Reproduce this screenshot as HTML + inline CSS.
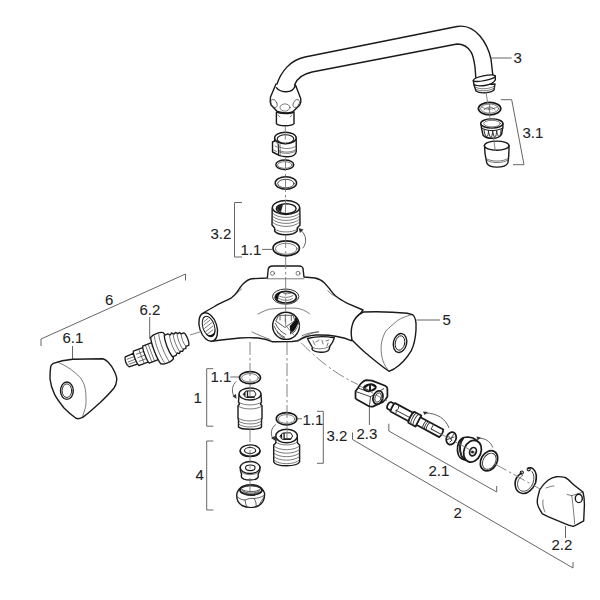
<!DOCTYPE html>
<html><head><meta charset="utf-8">
<style>
html,body{margin:0;padding:0;background:#fff;}
svg{display:block;}
.p{fill:#fff;stroke:#1a1a1a;stroke-width:1.4;stroke-linejoin:round;stroke-linecap:round;}
.n{fill:none;stroke:#1a1a1a;stroke-width:1.4;stroke-linejoin:round;stroke-linecap:round;}
.t{fill:none;stroke:#444;stroke-width:0.7;stroke-linecap:round;}
.g{fill:none;stroke:#666;stroke-width:1;}
.d{fill:none;stroke:#777;stroke-width:0.9;stroke-dasharray:13 3 2.5 2.5;}
.bold .p,.bold .n{stroke-width:1.75;}
.bold .t{stroke-width:0.9;stroke:#333;}
text{font-family:"Liberation Sans",sans-serif;font-size:15px;fill:#222;stroke:#222;stroke-width:0.08;}
</style></head>
<body>
<svg width="600" height="600" viewBox="0 0 600 600">
<!-- SPOUT 3 -->
<path fill="#fff" d="M277 84 C281 72 290 60 305 57 L457 26.5 C466 25 474 29 480 36 C485 42 489 50 491 59 L493 76 L476 79 L475 67 C474 60 473 55 471 52 C468 47 463 44 457 44 L312 72 C303 74 297 78 294.5 85 Z"/>
<path class="n" d="M277 84 C281 72 290 60 305 57 L457 26.5 C466 25 474 29 480 36 C485 42 489 50 491 59 L493 77"/>
<path class="n" d="M476 80 L475 67 C474 60 473 55 471 52 C468 47 463 44 457 44 L312 72 C303 74 297 78 294.5 85"/>
<!-- nozzle ring -->
<path class="p" d="M474 85 L476 91 C480 94 491 93 494 90 L495 84 Z"/>
<path class="t" d="M475 87 C480 90 490 89 494.5 86 M475.5 89 C480 92 490 91 494.5 88"/>
<path class="p" d="M473.3 80.7 L474 84.5 C478 87 492 86 495.3 80 L495.3 76 C491 79 478 81 473.3 80.7 Z"/>
<path class="p" d="M473.3 80.7 C473 77 493 73 495.3 76 C496 79 476 83 473.3 80.7 Z"/>

<!-- swivel nut -->
<path class="p" d="M276 84 L270.5 97 C270 100 270 103 271 105 L277.3 111.5 C282 113 289 113 292.6 112 L299.8 105 C301 103 301 100 300.7 98.5 L295.5 85 C294 90 290 92 285.4 91.8 C281 91.5 278 90 276.4 87.7"/>
<ellipse class="t" cx="274" cy="103.5" rx="2.8" ry="4.3" transform="rotate(-25 274 103.5)"/>
<ellipse class="t" cx="285" cy="107.5" rx="5" ry="3.6"/>
<ellipse class="t" cx="296.3" cy="103.5" rx="2.8" ry="4.3" transform="rotate(25 296.3 103.5)"/>
<path class="p" d="M276.4 112 L276.4 123.7 C278 126.5 292 126.5 294 123.7 L294 112 C290 114 280 114 276.4 112 Z"/>
<path class="t" d="M278 115 l2 2 M292 115 l-2 2"/>

<!-- clip ring -->
<path class="p" d="M274.7 138 L274.7 141 L272.5 142 L272.5 152 L277.5 154.5 C281 157 291 157.5 293.5 155.5 C295.5 154 296.3 153 296.3 151.5 L296.2 138 Z"/>
<ellipse class="p" cx="285.4" cy="138" rx="10.8" ry="5.8"/>
<ellipse class="n" cx="285.5" cy="139" rx="8.3" ry="4.2" style="stroke-width:1.1"/>
<path class="t" d="M279 146.8 C284 149.5 292 149 296.2 146 M279 150.5 C284 153 292 152.5 296.2 149.5 M279 151.8 C284 154.3 292 153.8 296.2 150.8"/>
<path class="n" d="M278.2 144 L278.6 155" style="stroke-width:1.1"/>
<path class="t" d="M280 144.5 L280.3 155.5 M274.7 141 C275.5 142 277 143.5 278.2 144 M275 146 l2 1 M273.5 150 l3 1.5"/>
<!-- o-rings -->
<ellipse class="n" cx="284.8" cy="164.8" rx="9" ry="4.8"/>
<ellipse class="t" cx="284.8" cy="165" rx="7.3" ry="3.3"/>
<ellipse class="n" cx="285.9" cy="183" rx="10.7" ry="6.2" style="stroke-width:1.5"/>
<ellipse class="t" cx="285.9" cy="183.6" rx="8.2" ry="4.3" style="stroke-width:0.9;stroke:#333"/>

<!-- insert 3.2 upper -->
<path class="p" d="M272.2 208 L272 225 L274.6 228 L274.6 231 C278 236 293 236 297.2 231 L297.2 228 L300 225 L299.8 208 Z"/>
<ellipse class="p" cx="286" cy="207.5" rx="13.6" ry="7"/>
<ellipse class="n" cx="286.2" cy="208.7" rx="9.9" ry="5"/>
<path d="M277 208 C277 206 280 204.5 283 204.2 L281 212 C278 211 277 210 277 208 Z" fill="#222"/>
<path class="t" d="M272.2 213 C278 219 294 219 299.8 213 M272.2 216 C278 222 294 222 299.8 216 M272.2 219 C278 225 294 225 299.8 219 M272.2 222 C278 228 294 228 299.8 222 M274.6 229 C279 233 293 233 297.2 229"/>
<ellipse class="n" cx="286.2" cy="248.3" rx="13.2" ry="7.5" style="stroke-width:1.7"/>
<ellipse class="t" cx="286.2" cy="248.8" rx="10.8" ry="5.5"/>
<path class="g" d="M302.7 248.3 C307 243 307 235 300 229.5"/>
<path d="M298.5 228 L303.5 229.5 L300 233 Z" fill="#333"/>
<path class="g" d="M242 202.5 H234.5 V257 H242"/>
<path class="g" d="M262 249.4 H273"/>
<text x="210.5" y="239">3.2</text>
<text x="240.5" y="255">1.1</text>

<!-- BODY 5 -->
<path class="p" d="M204 312.5 L214.5 306.5 C220 303 226 301 231 298.2 C234 296 236 294 237 292.2 C239 289 241 286 243 284 C246 281 249 279 252 278.7 L267.3 278 L268.3 268.7 C269 266.5 271 266 272.8 266 L299.4 266 C301 266 303 267 303 268.7 L304 277 L315 278 C319 279 322 280.5 324 282.5 C326 284.5 328 287 329.7 289 C332 292 334 295 337 297 C340 299.5 344 301.5 348 303.6 L363 310 C356 318 351 330 352 340.8 C343 337 330 334.5 316 335 C308 335.5 302 338 298.3 340.8 L292 341.5 L272 341.7 C268 340 266 339 262.5 338.7 C255 337.5 246 337.5 240 338 C230 339 221 340 213 341 Z"/>
<ellipse class="p" cx="208.2" cy="327" rx="8.6" ry="14.7" transform="rotate(-18 208.2 327)"/>
<ellipse class="n" cx="208.6" cy="326.5" rx="5.8" ry="10.5" transform="rotate(-18 208.6 326.5)" style="stroke-width:1"/>
<g transform="translate(208.6 326.5) rotate(-18)">
<path class="t" style="stroke:#555" d="M-3 -6 l5 -2 M-4 -3 l7 -2.5 M-4.5 0.5 l8.5 -3 M-4.5 4 l8.5 -3 M-4 7 l7 -2.5"/>
<path d="M-5 5 C-4 9 -1.5 10.8 0.5 10.6 C3 10.3 5 8 5.6 4.5 C4 7.5 2 8.8 0 8.8 C-2 8.8 -4 7.5 -5 5 Z" fill="#111"/>
</g>
<circle class="t" cx="272.5" cy="273.3" r="2"/>
<circle class="t" cx="298" cy="273.3" r="2"/>
<path class="t" d="M267.3 278.8 H304 M258 314 C264 311 268 309 271 309 C280 308 290 308 296.7 308.2 C302 309 306 311 309.5 313.7 M252 332 C258 335 264 337 270 339.5 M235.5 294.5 L241.5 289 M327.8 290.7 C330 293 332 295 335 296 M302 335.7 C308 333 313 332 318.7 332"/>
<ellipse cx="285.7" cy="296.6" rx="13.2" ry="7.6" fill="#fff" stroke="#333" stroke-width="1"/>
<ellipse class="n" cx="285.8" cy="297.2" rx="10.6" ry="5.8" style="stroke-width:1.6"/>
<path d="M276 296 C276.5 293.5 279 292 281.5 291.8 L280 294 C278.5 295 278 297 278.5 299 L277 300 C276 299 275.8 297.5 276 296 Z" fill="#111"/>
<path class="t" d="M278 295.5 C282 298 289 298 293 295.5 M279 298.5 C283 301 289 301 292.5 298.5 M283 293 C286 294 289 294 291 293"/>
<ellipse class="p" cx="286" cy="325.8" rx="13.4" ry="13.6"/>
<path d="M294.7 320.7 L289.8 326 L290.3 334.5 C294 333 297.5 329 298.2 325 C298.5 321.5 297.5 318.5 295.5 316.5 Z" fill="#111"/>
<path fill="none" stroke="#fff" stroke-width="0.8" d="M291 333.5 C294.5 331 297 328 297.8 324.5 M292.5 334.5 C296 332 298.5 328.5 299 325"/>
<path class="t" style="stroke:#333;stroke-width:0.8" d="M276 320.7 L278.7 315.3 L293.3 315.3 L294.7 320.7 L285.3 327.3 Z M280 315.3 V320 M285.3 315.3 V322 M291.3 315.3 V320.5 M274 326 C276 331 280 335 284.7 337.3 M275.5 323.5 C277.5 328.5 281.5 332.5 286 334.5 M277 332 C279 335 282 337.5 285 338.5"/>
<!-- small nut under body -->
<path class="p" d="M307.5 338.5 C309 342 311 345 312.5 347.5 L312 349 C314 353 327 353.5 329 349.5 L330 346 C332 343.5 333.5 341 334.3 337.8 C325 336 315 336.5 307.5 338.5 Z"/>
<path class="t" d="M312.5 347.5 C317 349.5 325 349.5 330 346 M313 341 l2 4 M316 342 l3 -2 M322 340 l1 4 M326 341 l3 -1 M328 343 l-1 3"/>
<path class="t" d="M298.3 340 C304 336 311 333 318.3 331.7"/>
<!-- knob 5 -->
<path class="p" d="M363.3 312 C378 311.5 395 312 407.3 313.3 L412.7 314.7 C416 317 416.5 322 416 330 C415.5 338 414 345 411.3 350.7 C407 358 402 364 394 369 L389 371.3 C380 365 373 359 366 353.3 C361 349 356 344 352 340 C351 335 351 330 352 326 C353 321 357 315 363.3 312 Z"/>
<path class="t" d="M411.3 314.7 C404 317 399 319 396.7 321.3 C392 325 389 328 386 330.7 C383 336 382 340 381.3 344 C381 349 381 353 382 357.3 C383 362 385 366 388 370"/>
<ellipse class="n" cx="400" cy="343" rx="6.6" ry="9.6" transform="rotate(12 400 343)"/>
<ellipse class="n" cx="400" cy="343" rx="4.7" ry="7.3" transform="rotate(12 400 343)" style="stroke-width:0.9"/>
<path class="g" d="M416.7 320 H440"/>
<text x="442.5" y="325">5</text>

<!-- 6 -->
<path class="g" d="M41 346 V339 L185.5 274 V280.5"/>
<text x="105" y="304.5">6</text>
<text x="62.5" y="343">6.1</text>
<path class="g" d="M72.5 346 V360"/>
<path class="p" d="M53.3 363.3 C60 361 66 360 72.7 359.3 L102.7 358.7 C105 359 106 360 108 362 C111 365 113 368 114.7 372 C116 375 117 378 116.7 380 C116.5 383 115.5 386 114 388 C110 393 105 398 100 402.7 C94 408 89 413 82.7 417.3 C81 418 79 418.7 78 418.7 C76 418.5 75 418 74.7 417.3 C70 414 67 411 64 408 C60 403 57 399 54.7 394.7 C52 389 50.5 384 50 378.7 C50 374 50.2 370 50.7 366.7 C51 365 52 364 53.3 363.3 Z"/>
<path class="t" d="M57.3 362 C62 364 66 366 70.7 369.3 C74 372 77 374 80 377.3 C83 381 84.5 385 85.3 389.3 C86 393 86 398 86 402.7 C86 406 85 409 84 412 C83.5 414 83 416 82 417.3"/>
<ellipse class="n" cx="66.9" cy="390.7" rx="6.4" ry="8.7"/>
<ellipse class="n" cx="66.9" cy="390.7" rx="4.8" ry="6.8" style="stroke-width:0.9"/>
<text x="139.5" y="315">6.2</text>
<path class="g" d="M149.7 317 V339"/>
<!-- cartridge 6.2 -->
<g transform="translate(128 361.5) rotate(-21) scale(0.96)">
<path class="p" d="M-1 -5.5 L9 -6 L9 6 L-1 5.5 C-3 3 -3 -3 -1 -5.5 Z"/>
<path class="t" d="M0 -2.5 H9 M0 0.5 H9 M0 3 H9"/>
<path class="p" d="M9 -8 L22 -8 L22 8 L9 8 C7.5 5 7.5 -5 9 -8 Z"/>
<path class="t" d="M11 -4 H22 M11 0 H22 M11 4 H22 M15 -8 V8"/>
<path class="p" d="M20 -9.5 L33 -9.5 L33 9.5 L20 9.5 C18.5 6 18.5 -6 20 -9.5 Z"/>
<path class="t" d="M23 -9.5 V9.5 M26 -9.5 V9.5 M29 -6 H33 M29 4 H33"/>
<path class="p" d="M31 -15 C34 -17 42 -17 45 -15 L46 -12 L46 12 L45 14.5 C42 16.5 34 16.5 31 14.5 C29 8 29 -8 31 -15 Z"/>
<path class="t" d="M35 -14.5 C33 -8 33 8 35 14.5 M40 -15 C38 -8 38 8 40 15"/>
<path class="p" d="M45 -12 L49 -12 L51 -10 L53 -11.5 L55 -9.5 L57 -10.5 L59 -8.5 L61 -9 L62 -7 L65 -7 C67 -5 67 5 65 7 L62 7 L61 9 L59 8.5 L57 10.5 L55 9.5 L53 11.5 L51 10 L49 12 L45 12 C43 6 43 -6 45 -12 Z"/>
<path class="t" d="M50 -10 C48.5 -4 48.5 4 50 10 M54 -10 C52.5 -4 52.5 4 54 10 M58 -9 C56.5 -3 56.5 3 58 9 M62 -7 C60.5 -3 60.5 3 62 7"/>
</g>

<!-- ITEM 1 -->
<path class="g" d="M213.3 368.7 H206.7 V426.2 H213.3"/>
<text x="193.5" y="403">1</text>
<text x="210.5" y="382">1.1</text>
<path class="g" d="M230.2 377 H239"/>
<ellipse class="n" cx="250" cy="377.6" rx="10.5" ry="6" style="stroke-width:1.6"/>
<ellipse class="t" cx="250" cy="377.8" rx="8.3" ry="4.2"/>
<path class="g" d="M236.3 381.4 C232 385 231 392 234.6 397.4"/>
<path d="M232.5 396 L236.5 399 L236 394 Z" fill="#333"/>
<path class="p" d="M239 395 L238.5 402 L239.5 404 L238 406 L238 418 L238.5 420 L238.5 427 C241 430 259 430 261.5 427 L261.5 420 L262 418 L262 406 L260.5 404 L261.5 402 L261 395 Z"/>
<ellipse class="p" cx="250" cy="394" rx="11" ry="6"/>
<g transform="translate(250 394)">
<path class="n" d="M-6.5 0 L-4 -3 L4 -3.2 L6 0 L4 3.5 L-4 3.3 Z" style="stroke-width:1"/>
<path d="M-6.5 0 L-4.5 -2.5 L-4.5 2.5 Z" fill="#111"/>
<path class="n" d="M-2.5 -2.5 V3 H4" style="stroke-width:1.3"/>
</g>
<path class="t" d="M238.5 402 C243 406 257 406 261.5 402 M238 406 C243 410 257 410 262 406 M238 418 C243 422 257 422 262 418 M238.5 421 C243 425 257 425 261.5 421 M238.5 424 C243 428 257 428 261.5 424"/>

<!-- 3.2 lower -->
<ellipse class="n" cx="286.6" cy="418.8" rx="10.3" ry="6.2" style="stroke-width:1.6"/>
<ellipse class="t" cx="286.6" cy="419" rx="8.3" ry="4.4"/>
<path class="g" d="M297 418.8 H302"/>
<text x="302.5" y="425">1.1</text>
<path class="g" d="M317 411.3 H323.3 V463.3 H317"/>
<text x="326.5" y="441">3.2</text>
<path class="g" d="M275.8 424.5 C271 428 270 434 273.2 439"/>
<path d="M271 438 L275.5 441 L275 436 Z" fill="#333"/>
<path class="p" d="M276 437 L275.8 443 L273.7 445 L273.7 462 C276 467 297 467 299.6 462 L299.6 445 L297.5 443 L297.3 437 Z"/>
<ellipse class="p" cx="286.6" cy="436" rx="10.8" ry="6.8"/>
<g transform="translate(286.6 436)">
<path class="n" d="M-6.5 0 L-4 -3 L4 -3.2 L6 0 L4 3.5 L-4 3.3 Z" style="stroke-width:1"/>
<path d="M-6.5 0 L-4.5 -2.5 L-4.5 2.5 Z" fill="#111"/>
<path class="n" d="M-2.5 -2.5 V3 H4" style="stroke-width:1.3"/>
</g>
<path class="t" d="M275.8 442 C280 446 293 446 297.3 442 M273.7 446 C279 451 294 451 299.6 446 M273.7 449.5 C279 454.5 294 454.5 299.6 449.5 M273.7 453 C279 458 294 458 299.6 453 M273.7 456.5 C279 461.5 294 461.5 299.6 456.5 M273.7 460 C279 465 294 465 299.6 460"/>

<!-- ITEM 4 -->
<path class="g" d="M213.3 441 H206.7 V510 H213.3"/>
<text x="195.5" y="480">4</text>
<path class="p" d="M240.2 450.5 L240.2 452 C242 458 258 458 260 452 L260 450.5 Z"/>
<ellipse class="p" cx="250.1" cy="450.5" rx="9.9" ry="5.6"/>
<ellipse class="n" cx="250.1" cy="450.5" rx="5.6" ry="3" style="stroke-width:1.1"/>
<path class="p" d="M240.2 467 L240.5 471 L241.5 474 L241.4 477 C243 481 257 481 258.2 477 L258.2 474 L259.7 471 L260 467 Z"/>
<ellipse class="p" cx="250.1" cy="467.5" rx="9.9" ry="6"/>
<ellipse class="n" cx="250.3" cy="467.8" rx="4.8" ry="2.8" style="stroke-width:1.1"/>
<path class="t" d="M240.5 471 C244 476 256 476 259.7 471"/>
<path class="p" d="M237 493 C236 499 238 503 242 505.5 C247 508 254 508 259 505.5 C263 503 265 499 264.5 493 C262 487 256 485 250.5 485 C245 485 239 487 237 493 Z"/>
<ellipse class="n" cx="251" cy="490" rx="11" ry="5" style="stroke-width:1.8"/>
<path class="t" style="stroke:#333;stroke-width:0.8" d="M241.5 489 C245 492.5 257 492.5 260.5 489 M242 490.5 C246 494 256 494 260 490.5 M243 492 C247 495 255 495 259 492 M244 493.5 C248 496 254 496 258 493.5 M242.5 487.5 C247 485.5 255 485.5 259.5 487.5 M243 486.5 C247 484.8 255 484.8 259 486.5"/>
<path class="t" style="stroke:#333;stroke-width:0.8" d="M237.5 497 C240 499 242 500 245 500 C245.5 503 246 505.5 247 507.5 M245 500 C248 498.5 252 498 254 498.5 C256 501 256.5 504 256 507.5 M254 498.5 C258 498 261 497.5 264 495.5 M264 497 C262 500 260 503 258.5 506"/>

<!-- 2.3 block -->
<path class="g" d="M369.4 406.5 V425"/>
<text x="356.5" y="439">2.3</text>
<g class="bold"><path class="p" d="M355.5 391.2 L358 388 C359 386 360 384.5 361 383.5 C363 381.5 364.5 380.5 366.1 380.2 L372 380.6 L385.2 385.7 C386.5 386.5 387.4 387.5 387.4 388.7 L387.4 396.7 C386.5 398.5 385 400.5 383 401.9 L372.7 406.6 C371.5 406.8 370 406.7 369 406.3 L357.3 399.7 C356.5 399.2 355.7 398.8 355.5 398.2 Z"/>
<path class="t" d="M355.9 391.6 L370.5 396.7 L383.7 388.7 M370.5 396.7 L369.5 406 M358 388 L369 392"/>
<ellipse cx="369.8" cy="387.6" rx="6.4" ry="3.6" transform="rotate(-8 369.8 387.6)" fill="#222" stroke="#111" stroke-width="1.2"/>
<path d="M365.5 388 L369 385.5 L369 390 Z M371 385.3 L375 387.5 L371 389.8 Z" fill="#fff"/>
<ellipse class="p" cx="378" cy="397.5" rx="4.8" ry="6.8" transform="rotate(18 378 397.5)"/>
<ellipse class="t" cx="378.2" cy="397.5" rx="3" ry="4.8" transform="rotate(18 378.2 397.5)"/>

</g>
<!-- 2.1 spindle -->
<g class="bold" transform="translate(387.5 404.5) rotate(28.2)">
<path class="p" d="M2 -3.8 L7 -3.8 L7 3.8 L2 3.8 C0 3 -0.5 -3 2 -3.8 Z"/>
<path class="p" d="M6 -4.8 L27 -4.8 L28 -5.5 L28 5.5 L27 4.8 L6 4.8 C5 3 5 -3 6 -4.8 Z"/>
<path class="t" d="M10 -4.8 C12 -2 12 0 10 1 L26 1 M10 1 C12 3 12 4 10 4.8 M26 -4.8 V4.8"/>
<path class="p" d="M27 -6.2 L35 -6.2 C36.5 -3 36.5 3 35 6.2 L27 6.2 C25.5 3 25.5 -3 27 -6.2 Z"/>
<path class="t" d="M29.5 -6.2 C28 -3 28 3 29.5 6.2 M32 -6.2 C30.5 -3 30.5 3 32 6.2"/>
<path class="p" d="M35 -4.3 L61 -4.3 C62 -2 62 2 61 4.3 L35 4.3 Z"/>
<path class="t" d="M42 -4.3 C41 -2 41 2 42 4.3 M44 -4.3 C43 -2 43 2 44 4.3 M46 -4.3 C45 -2 45 2 46 4.3 M50 -4.3 V1 L61 1"/>
</g>
<path class="g" d="M425 413 C437 413 446 419 449 428"/>
<path d="M423 411.5 L428 412 L424.5 415 Z" fill="#333"/>
<g class="bold"><ellipse class="n" cx="451.2" cy="438.4" rx="4.8" ry="6.4" transform="rotate(20 451.2 438.4)"/>
<path class="t" d="M448.5 436 L452 440 L450 442 M453.5 434.5 L451 438.5 M447.5 439.5 L454 437"/>
</g>
<path class="g" d="M388.8 423.7 V431 L496.7 492 V486"/>
<path class="g" d="M352.5 432.5 V439.5 L573 568 V562"/>
<text x="428.5" y="476">2.1</text>
<text x="453.5" y="518">2</text>

<g class="bold"><!-- bushing -->
<path class="p" d="M464 437.5 C459 439 457 445 457.5 451 C458 456 461 460 466 460 L472 461 C477 460 480 456 480.5 451 C481 445 478 440 473 438 L468 437 Z"/>
<path class="n" d="M463 438.5 C459.5 442 459 450 461.5 456 C462.5 458 464 459.5 466 460" style="stroke-width:2"/>
<path class="t" d="M461 441 C459 446 459.5 453 462.5 457.5"/>
<ellipse class="p" cx="472.5" cy="451.2" rx="8.5" ry="11.2" transform="rotate(22 472.5 451.2)"/>
<ellipse class="n" cx="473" cy="451.7" rx="3.2" ry="4.3" transform="rotate(22 473 451.7)"/>
<circle fill="#222" cx="472.5" cy="452" r="1.5"/>
<path class="g" d="M478.4 438.4 C485 438 490 441 492.8 447.5"/>
<path d="M476.5 436.5 L481 437.5 L477.5 440.5 Z" fill="#333"/>
<ellipse class="n" cx="489" cy="460.8" rx="8" ry="10.7" transform="rotate(30 489 460.8)" style="stroke-width:1.7"/>
<ellipse class="t" cx="489.3" cy="461.2" rx="6.2" ry="8.6" transform="rotate(30 489.3 461.2)"/>

<!-- circlip -->
<path class="n" d="M521.4 473.2 C517 476 515 480 515.1 484 C515.3 489 518 493 522.8 493.5 C528 494 533 489 535.5 483 C537 477 536 471.5 533.3 469 C531.5 467.5 530 467.5 528.4 468.3" style="stroke-width:1.6"/>
<path class="t" d="M522.5 475.5 C519 478 517.5 481 517.5 484.5 C518 489 520 491 523 491.2 C527 491.5 531 488 533 483 C534.5 478 534 474 532 471.5"/>
<circle class="n" cx="521.8" cy="472.6" r="1.6" style="stroke-width:1.1"/>
<circle class="n" cx="528.7" cy="469.3" r="1.6" style="stroke-width:1.1"/>

</g>
<!-- handle 2.2 -->
<path class="p" d="M539.6 490 C542 486 545 482.5 548 480.2 C551 478 553.5 477 556.4 476.7 C559.5 476.5 562.5 476.8 564.8 477.4 C567.5 478.5 569.5 480.5 571.8 483 C575 486 579 489 583 492.1 C584 496 584.5 500 584.4 505.4 L583.7 520.8 C580 523 577 525 573.2 526.4 C570 525.5 567 524.5 564.8 523.6 L548 516.6 C546 515.5 544 514.5 542.4 513.8 C540 510 538 507 537.5 504 C537 501 537.5 498 538.2 495.6 Z"/>
<path class="t" d="M571.8 495.6 L583 492.1 M571.8 495.6 C573 505 574 515 574.6 523.6 M546 488 C550 486.5 552 486 554 486 M567 494.5 L571.8 495.6 M543 500 C542.5 504 543 508 545 512"/>
<ellipse class="n" cx="578.8" cy="498.4" rx="3.5" ry="4.2"/>
<path class="g" d="M565.5 526 V538"/>
<text x="551.5" y="550">2.2</text>

<!-- AERATOR 3.1 -->
<ellipse class="n" cx="489.6" cy="108.6" rx="11.2" ry="6.2" style="stroke-width:1.7"/>
<ellipse class="t" cx="489.6" cy="108.6" rx="9" ry="4.6"/>
<path class="t" d="M482 107 C486 110 492 110 497 107 M484 110 C488 106 492 106 495 110 M489.6 104.5 V112.5"/>
<path class="p" d="M481 124 L481.3 127 L483 135 C486 139.5 499 139.5 501.5 134.5 L502.9 127 L502.9 123.5 Z"/>
<ellipse class="p" cx="491.8" cy="123.5" rx="11.1" ry="4.6"/>
<ellipse class="t" cx="492" cy="123.6" rx="8.3" ry="3.3"/>
<path class="n" d="M481.8 128 C487 131.5 497 131.5 502.5 128" style="stroke-width:1"/>
<path class="t" style="stroke:#222;stroke-width:0.95" d="M484 129.5 C484 133 485.5 136 486.8 136.8 C488 136 488.5 133 488.5 130.5 C488.5 133 490 137.5 491 137.5 C492 137.5 492.5 133 492.7 130.8 C493 133 494 137.5 495 137.5 C496 137 496.5 133 496.7 130.5 C497 133 498 136.5 499 136.5 C500.5 136 501 132 501 129.5"/>
<path class="p" d="M484.5 145.5 C484.5 152 485.5 158 486.8 163 C489 168.5 505 168.5 507.8 163 C509 158 509 152 509 145.5 Z"/>
<ellipse class="p" cx="496.7" cy="145.7" rx="12.3" ry="4.6"/>
<path class="t" d="M486 158.5 C491 162 503 162 508 158.5 M486.3 160 C491 163.5 503 163.5 508 160"/>
<path class="g" d="M500.8 99.7 H511.7 L524 164.7 H513"/>
<text x="522.5" y="138">3.1</text>
<path class="g" d="M490.7 58 H511.7"/>
<text x="513.5" y="63">3</text>
<!-- axis lines (on top) -->
<path class="d" d="M285.3 126.5 V146 M285.5 158 V213 M285.7 235 V326"/>
<path class="d" d="M486 92 L490 118 M493.5 138 L495.5 152"/>
<path class="d" d="M250 342 V397 M250 429 V470 M250 478 V494"/>
<path class="d" d="M287 342 V438"/>
<path class="d" d="M287 327 Q321 367.6 358 384.5"/>
<path class="d" d="M387 401 L360 386 M441 434 L475 452.5 M495 464 L540 489"/>
<path class="d" d="M190 335 L203 331"/>
</svg>
</body></html>
